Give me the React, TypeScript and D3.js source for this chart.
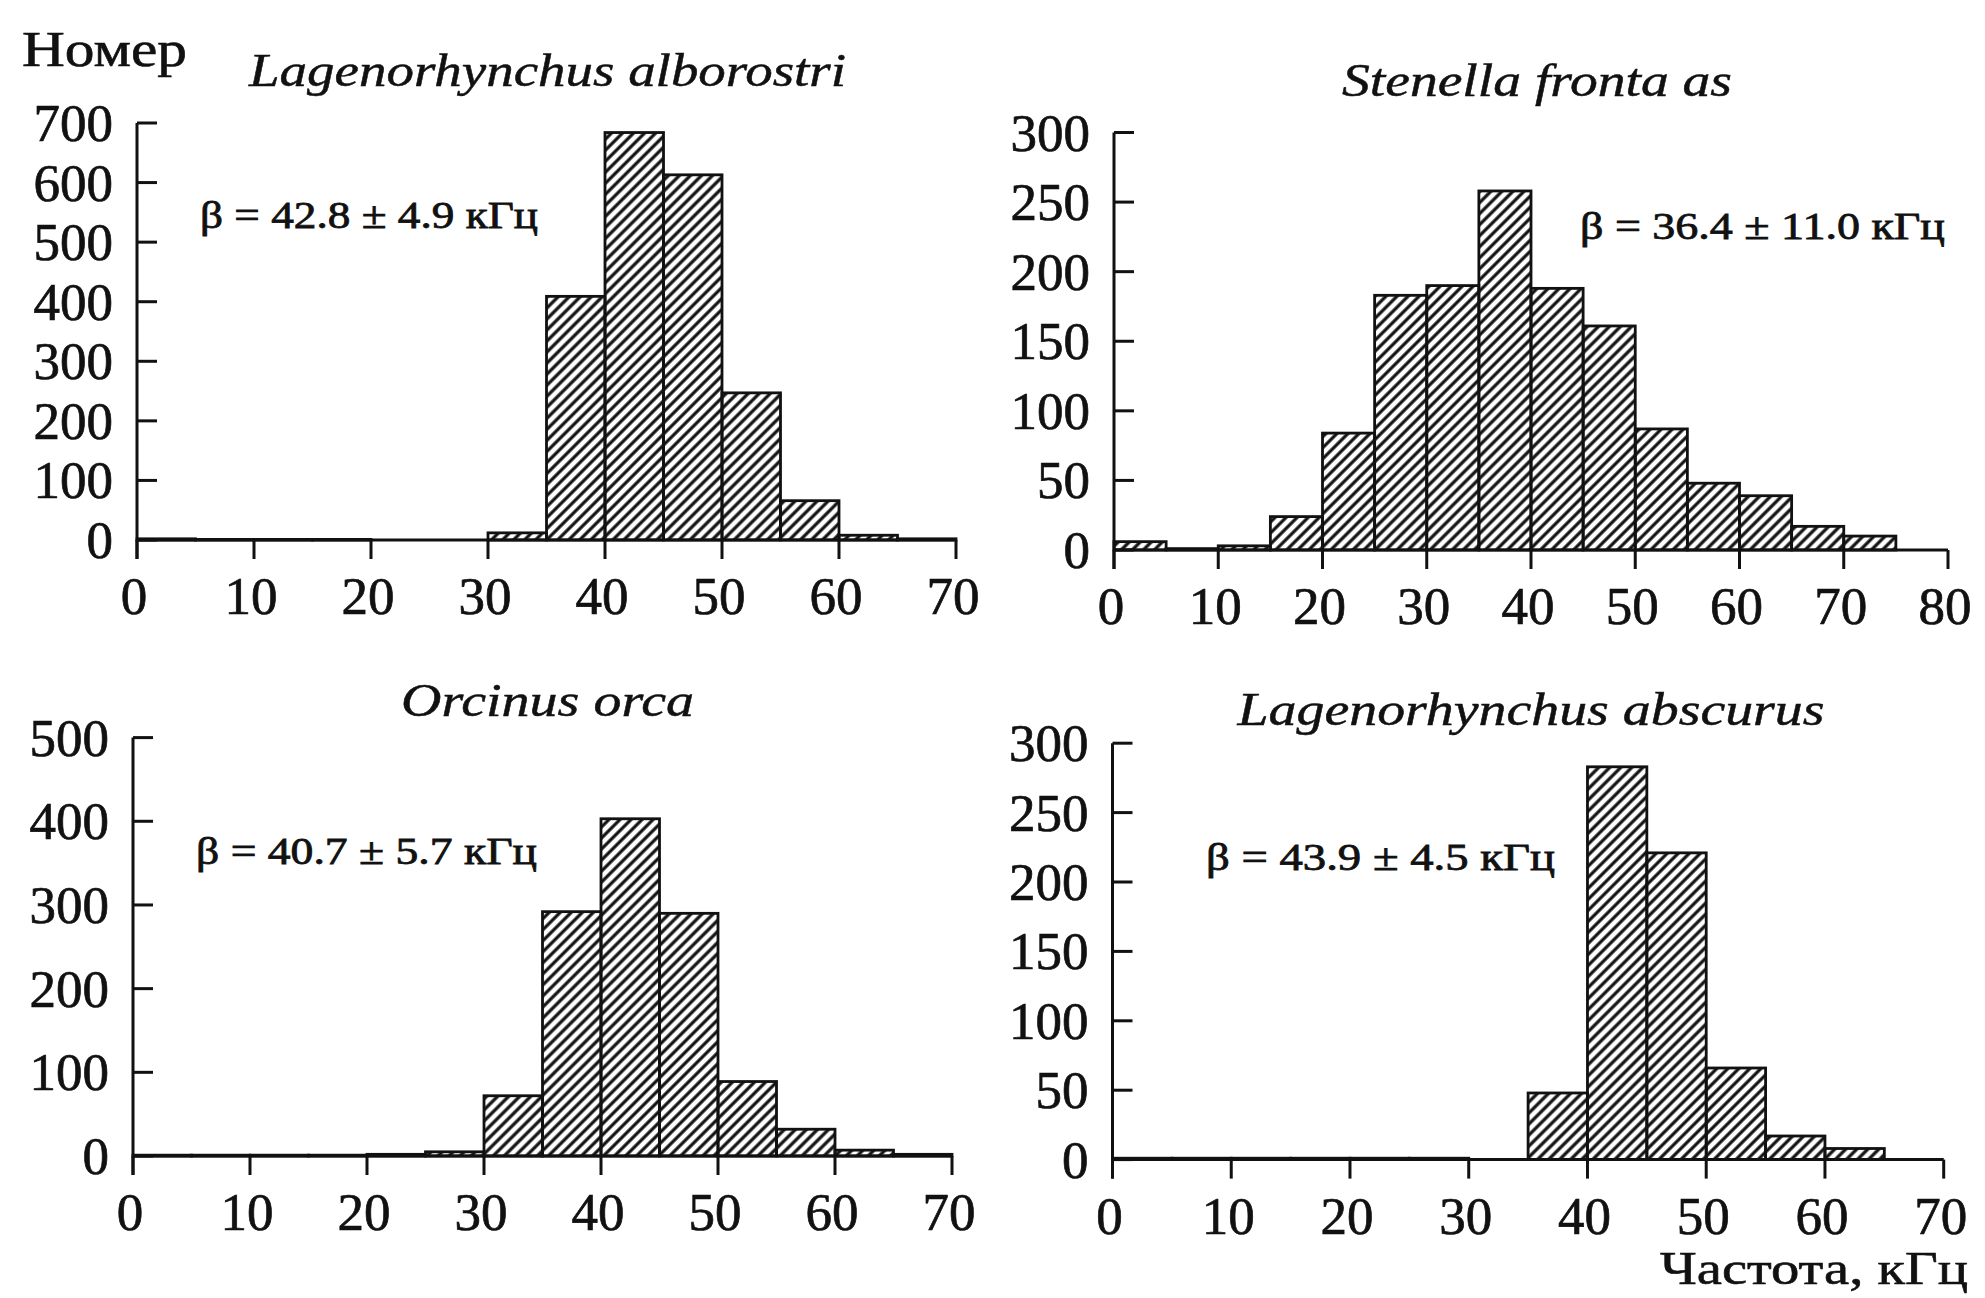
import React from "react";
import * as d3 from "d3";

const binWidth = 5;
const albCounts = [2, 1, 1, 1, 0, 0, 12, 409, 684, 613, 247, 66, 8, 2];
const stenCounts = [6, 1, 3, 24, 84, 183, 190, 258, 188, 161, 87, 48, 39, 17, 10];
const orcaCounts = [1, 1, 1, 1, 2, 5, 72, 292, 403, 290, 89, 32, 7, 2];
const obscCounts = [1, 1, 1, 1, 1, 1, 0, 48, 283, 221, 66, 17, 8];

const titles = [
	"Lagenorhynchus alborostri",
	"Stenella fronta as",
	"Orcinus orca",
	"Lagenorhynchus abscurus",
];
const betaLabels = [
	"β = 42.8 ± 4.9 кГц",
	"β = 36.4 ± 11.0 кГц",
	"β = 40.7 ± 5.7 кГц",
	"β = 43.9 ± 4.5 кГц",
];

const xTicks70 = [0, 10, 20, 30, 40, 50, 60, 70];
const xTicks80 = [0, 10, 20, 30, 40, 50, 60, 70, 80];
const yTicks700 = [0, 100, 200, 300, 400, 500, 600, 700];
const yTicks500 = [0, 100, 200, 300, 400, 500];
const yTicks300 = [0, 50, 100, 150, 200, 250, 300];

const yLabel = "Номер";
const xLabel = "Частота, кГц";

const serif = "'Liberation Serif', 'Times New Roman', serif";
const ink = "#111";

function Histogram(props) {
	let { counts, xTicks, yTicks, left, right, top, bottom, title, beta } = props;
	let xMax = xTicks[xTicks.length - 1];
	let yMax = yTicks[yTicks.length - 1];

	let x = d3.scaleLinear().domain([0, xMax]).range([left, right]);
	let y = d3.scaleLinear().domain([0, yMax]).range([bottom, top]);

	let tickLen = 19;
	let fontSize = 53;

	return (
		<g>
			{/* bars */}
			{counts.map((c, i) => {
				if (c <= 0) return null;
				let x0 = x(i * binWidth);
				let x1 = x((i + 1) * binWidth);
				return (
					<rect key={i}
						x={x0}
						y={y(c)}
						width={x1 - x0}
						height={y(0) - y(c)}
						fill="url(#hatch)"
						stroke={ink}
						strokeWidth={2.8} />
				);
			})}

			{/* axes */}
			<line x1={left} x2={left} y1={y(yMax)} y2={bottom + tickLen} stroke={ink} strokeWidth={3} />
			<line x1={left} x2={right} y1={bottom} y2={bottom} stroke={ink} strokeWidth={3} />

			{yTicks.map(t => (
				<g key={"y" + t}>
					<line x1={left} x2={left + 20} y1={y(t)} y2={y(t)} stroke={ink} strokeWidth={3} />
					<text x={left - 24} y={y(t) + 18} textAnchor="end"
						stroke={ink} strokeWidth={0.7}
						style={{ fontFamily: serif, fontSize: fontSize }} fill={ink}>{t}</text>
				</g>
			))}

			{xTicks.map(t => (
				<g key={"x" + t}>
					<line x1={x(t)} x2={x(t)} y1={bottom} y2={bottom + tickLen} stroke={ink} strokeWidth={3} />
					<text x={x(t) - 3} y={bottom + 74} textAnchor="middle"
						stroke={ink} strokeWidth={0.7}
						style={{ fontFamily: serif, fontSize: fontSize }} fill={ink}>{t}</text>
				</g>
			))}

			<text x={title.x} y={title.y} textLength={title.len} lengthAdjust="spacingAndGlyphs"
				stroke={ink} strokeWidth={0.5}
				style={{ fontFamily: serif, fontSize: 47, fontStyle: "italic" }} fill={ink}>{title.text}</text>

			<text x={beta.x} y={beta.y} textLength={beta.len} lengthAdjust="spacingAndGlyphs"
				stroke={ink} strokeWidth={0.8}
				style={{ fontFamily: serif, fontSize: 38 }} fill={ink}>{beta.text}</text>
		</g>
	);
}

export default function App() {
	let width = 1985;
	let height = 1298;

	return (
		<svg width={width} height={height}
			style={{ position: "absolute", left: 0, top: 0, background: "#fff" }}>
			<defs>
				<pattern id="hatch" patternUnits="userSpaceOnUse" width={7.8} height={7.8}
					patternTransform="rotate(45)">
					<line x1={3.9} x2={3.9} y1={0} y2={7.8} stroke={ink} strokeWidth={3.2} />
				</pattern>
			</defs>
			<rect width={width} height={height} fill="#fff" />

			<text x={22} y={66} textLength={165} lengthAdjust="spacingAndGlyphs"
				stroke={ink} strokeWidth={0.6}
				style={{ fontFamily: serif, fontSize: 50 }} fill={ink}>{yLabel}</text>

			<Histogram counts={albCounts} xTicks={xTicks70} yTicks={yTicks700}
				left={137} right={956} top={123} bottom={540}
				title={{ text: titles[0], x: 249, y: 86, len: 597 }}
				beta={{ text: betaLabels[0], x: 200, y: 228, len: 338 }} />

			<Histogram counts={stenCounts} xTicks={xTicks80} yTicks={yTicks300}
				left={1114} right={1948} top={132.5} bottom={550}
				title={{ text: titles[1], x: 1342, y: 96, len: 390 }}
				beta={{ text: betaLabels[1], x: 1580, y: 239, len: 365 }} />

			<Histogram counts={orcaCounts} xTicks={xTicks70} yTicks={yTicks500}
				left={133} right={952} top={737.6} bottom={1156}
				title={{ text: titles[2], x: 401, y: 716, len: 293 }}
				beta={{ text: betaLabels[2], x: 196, y: 864, len: 341 }} />

			<Histogram counts={obscCounts} xTicks={xTicks70} yTicks={yTicks300}
				left={1112.5} right={1943.7} top={743.2} bottom={1159.6}
				title={{ text: titles[3], x: 1237.5, y: 725, len: 587 }}
				beta={{ text: betaLabels[3], x: 1206, y: 870, len: 349 }} />

			<text x={1660} y={1284} textLength={308} lengthAdjust="spacingAndGlyphs"
				stroke={ink} strokeWidth={0.6}
				style={{ fontFamily: serif, fontSize: 46 }} fill={ink}>{xLabel}</text>
		</svg>
	);
}
